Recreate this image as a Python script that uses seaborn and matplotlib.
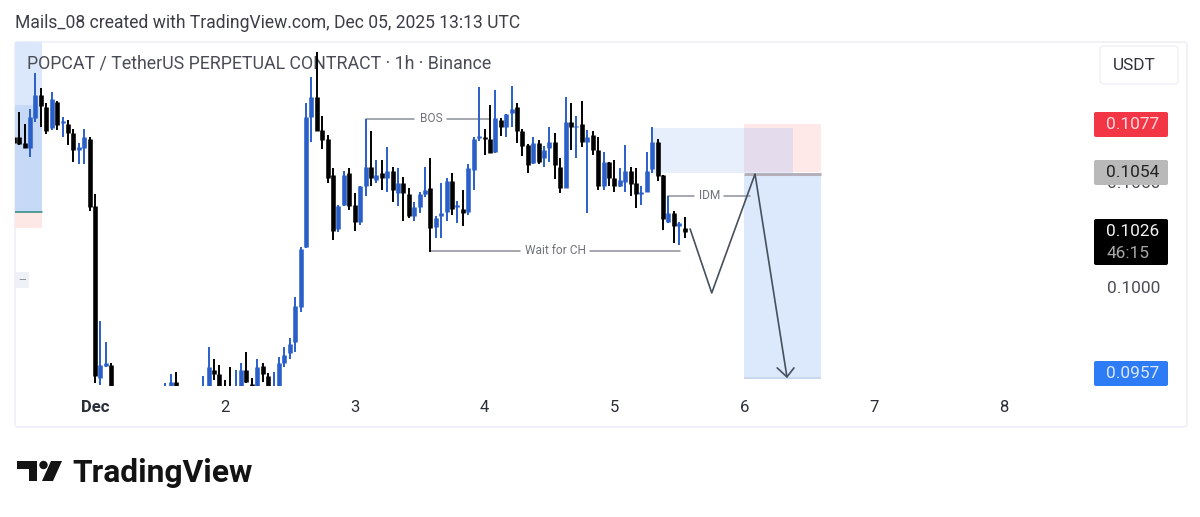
#!/usr/bin/env python3
"""POPCAT / USDT 1h perpetual chart, TradingView snapshot style"""

import matplotlib
matplotlib.use("Agg")
import matplotlib.pyplot as plt
from matplotlib.patches import Rectangle, FancyBboxPatch, Polygon, Circle
import numpy as np
import pandas as pd
import seaborn as sns

# hours since Dec 1 00:00 UTC; candles that sit below the visible range are left out
hours = [-15, -14, -13, -12, -11, -10, -9, -8, -7, -6, -5, -4, -3, -2, -1, 0, 1, 2, 3,
         13, 14, 15] + list(range(20, 110))

opens = [.10713, .10713, .10685, .10661, .10803, .10913, .10856, .10756, .10879, .10780,
         .10775, .10732, .10651, .10661, .10704, .10385, .09568, .09626, .09630,
         .09502, .09502, .09549,
         .09502, .09502, .09606, .09587, .09521, .09521, .09502, .09502, .09606, .09540,
         .09502, .09626, .09578, .09502, .09502, .09640, .09687, .09739, .09906, .10191,
         .10808, .10903, .10746, .10704, .10533, .10276, .10390, .10542, .10390, .10309,
         .10480, .10571, .10509, .10542, .10518, .10552, .10447, .10495, .10442, .10338,
         .10381, .10442, .10471, .10286, .10338, .10357, .10504, .10381, .10371, .10357,
         .10556, .10708, .10713, .10704, .10642, .10794, .10760, .10827, .10856, .10741,
         .10675, .10590, .10685, .10613, .10661, .10689, .10571, .10471, .10784, .10760,
         .10775, .10689, .10723, .10651, .10480, .10594, .10518, .10480, .10499, .10552,
         .10495, .10442, .10452, .10561, .10689, .10533, .10309, .10352, .10290, .10281]

highs = [.10718, .10832, .10775, .10846, .11017, .10946, .10875, .10927, .10884, .10808,
         .10794, .10751, .10685, .10751, .10713, .10442, .09839, .09739, .09640,
         .09545, .09587, .09597,
         .09578, .09716, .09659, .09630, .09559, .09621, .09606, .09640, .09692, .09568,
         .09659, .09640, .09592, .09597, .09668, .09716, .09758, .09953, .10191, .10875,
         .10998, .11117, .10813, .10723, .10566, .10390, .10552, .10566, .10447, .10480,
         .10799, .10741, .10604, .10604, .10666, .10571, .10566, .10523, .10471, .10404,
         .10452, .10571, .10613, .10338, .10495, .10518, .10542, .10409, .10461, .10585,
         .10713, .10950, .10751, .10865, .10936, .10803, .10822, .10955, .10875, .10751,
         .10680, .10713, .10699, .10670, .10760, .10732, .10613, .10903, .10875, .10813,
         .10884, .10746, .10741, .10713, .10642, .10594, .10604, .10566, .10675, .10571,
         .10566, .10480, .10642, .10760, .10704, .10533, .10433, .10362, .10309, .10333]

lows = [.10680, .10675, .10661, .10618, .10784, .10760, .10727, .10746, .10746, .10713,
        .10675, .10594, .10585, .10585, .10362, .09545, .09535, .09621, .09511,
        .09502, .09488, .09488,
        .09502, .09502, .09559, .09502, .09502, .09502, .09502, .09502, .09545, .09502,
        .09502, .09549, .09502, .09502, .09502, .09621, .09659, .09692, .09882, .10186,
        .10689, .10741, .10656, .10495, .10224, .10262, .10385, .10366, .10266, .10295,
        .10433, .10480, .10495, .10461, .10452, .10404, .10385, .10314, .10328, .10314,
        .10352, .10428, .10167, .10233, .10233, .10314, .10343, .10305, .10290, .10343,
        .10461, .10694, .10628, .10637, .10637, .10718, .10713, .10760, .10685, .10623,
        .10542, .10585, .10585, .10571, .10594, .10514, .10447, .10471, .10651, .10613,
        .10666, .10352, .10628, .10461, .10461, .10480, .10452, .10476, .10452, .10433,
        .10376, .10390, .10452, .10542, .10504, .10271, .10305, .10210, .10200, .10233]

closes = [.10685, .10680, .10661, .10808, .10913, .10860, .10741, .10894, .10770, .10789,
          .10732, .10651, .10666, .10713, .10381, .09578, .09630, .09640, .09511,
          .09511, .09549, .09502,
          .09521, .09621, .09587, .09502, .09502, .09502, .09521, .09606, .09549, .09502,
          .09621, .09587, .09502, .09521, .09640, .09678, .09730, .09910, .10181, .10808,
          .10903, .10741, .10699, .10518, .10266, .10385, .10533, .10385, .10309, .10480,
          .10571, .10518, .10533, .10518, .10552, .10461, .10495, .10447, .10338, .10381,
          .10442, .10461, .10281, .10328, .10352, .10504, .10371, .10390, .10352, .10566,
          .10704, .10718, .10704, .10637, .10803, .10760, .10822, .10846, .10741, .10670,
          .10580, .10685, .10594, .10651, .10689, .10580, .10471, .10784, .10760, .10765,
          .10689, .10713, .10651, .10480, .10594, .10518, .10480, .10509, .10552, .10490,
          .10442, .10452, .10552, .10689, .10528, .10324, .10352, .10290, .10305, .10262]

day_ticks = [0, 24, 48, 72, 96, 120, 144, 168]
day_labels = ["Dec", "2", "3", "4", "5", "6", "7", "8"]
axis_prices = [0.1000, 0.1050]

# drawn setup: expected path and arrow head (hour, price)
path_hours = [110, 114, 122, 127.9]
path_prices = [.10276, .09972, .10537, .09573]
head_hours = [126.1, 127.9, 129.2]
head_prices = [.09616, .09573, .09616]

# price tags on the right: label, top and bottom pixel, fill, text colour
tag_labels = ["0.1077", "0.1054", "0.0957"]
tag_boxes = [(112, 137), (160, 185), (361, 386)]
tag_fills = ["#f23645", "#b9b9b9", "#2e7bf6"]
tag_text = ["#ffd9dc", "#222222", "#dbe8ff"]

W, H = 1200, 517
BLUE = "#2a5fc9"
GRAY = "#8b8f98"


def x_h(px):
    return (px - 95) / 5.41


sns.set_theme(style="white")
plt.rcParams["font.family"] = ["Roboto", "DejaVu Sans"]

fig = plt.figure(figsize=(12, 5.17), dpi=100)
fig.patch.set_facecolor("white")

# overlay in pixel coordinates for the frame
over = fig.add_axes([0, 0, 1, 1], zorder=0)
over.set_xlim(0, W)
over.set_ylim(H, 0)
over.axis("off")
over.add_patch(FancyBboxPatch((15, 42), 1172, 385, boxstyle="round,pad=0,rounding_size=3",
                              fc="white", ec="#f0f2f8", lw=1.4))

ax = fig.add_axes([15 / W, 1 - 386 / H, 1072 / W, 344 / H], zorder=1)
ax.patch.set_alpha(0)
ax.set_xlim(x_h(15), x_h(1087))
ax.set_ylim(.09530, .11164)
sns.despine(ax=ax, left=True, bottom=True, top=True, right=True)

# boxes on the left edge
x0, x1 = x_h(15), x_h(42)
ax.add_patch(Rectangle((x0, .10865), x1 - x0, .11164 - .10865, fc="#dbe7fa", ec="none", zorder=1))
ax.add_patch(Rectangle((x0, .10357), x1 - x0, .10865 - .10357, fc="#c6d9f6", ec="none", zorder=1))
ax.add_patch(Rectangle((x0, .10281), x1 - x0, .10357 - .10281, fc="#fde8e6", ec="none", zorder=1))
ax.plot([x0, x1], [.10357, .10357], color="#2a8a7e", lw=1.1, zorder=2)
ax.add_patch(Rectangle((x0, .09996), x_h(29) - x0, .00076, fc="#eef1f8", ec="none", zorder=1))
ax.text(x_h(22.5), .10034, "—", fontsize=7, color="#7d818a", ha="center", va="center", zorder=2)

# trade zones
ax.add_patch(Rectangle((103, .10542), 26, .00214, fc="#e8effc", ec="none", zorder=1))
ax.add_patch(Rectangle((120, .10547), 14.2, .00228, fc="#fee9e8", ec="none", zorder=1.1))
ax.add_patch(Rectangle((120, .10547), 9, .00209, fc="#e4dcec", ec="none", zorder=1.2))
ax.add_patch(Rectangle((120, .09568), 14.2, .00965, fc="#dce8fb", ec="none", zorder=1))
ax.plot([120, 134.2], [.10538, .10538], color="#b4b0bc", lw=2.2, zorder=1.3, solid_capstyle="butt")
ax.plot([120, 134.2], [.09568, .09568], color="#cbd9ee", lw=1.5, zorder=1.3, solid_capstyle="butt")

ax.text((27 - 15) / 1072, 1 - (63 - 42) / 344,
        "POPCAT / TetherUS PERPETUAL CONTRACT · 1h · Binance",
        transform=ax.transAxes, fontsize=12.78, color="#4a4d55",
        ha="left", va="center", zorder=2)

# candles: wick and body each as a two point line per candle
frame = pd.DataFrame({"hour": hours, "o": opens, "h": highs, "l": lows, "c": closes})
frame["side"] = np.where(frame["c"] >= frame["o"], "up", "down")
colors = {"up": BLUE, "down": "#000000"}
wicks = frame.melt(id_vars=["hour", "side"], value_vars=["h", "l"], value_name="price")
bodies = frame.melt(id_vars=["hour", "side"], value_vars=["o", "c"], value_name="price")

sns.lineplot(data=wicks, x="hour", y="price", units="hour", hue="side", palette=colors,
             estimator=None, sort=False, legend=False, lw=1.4, ax=ax, zorder=3,
             solid_capstyle="butt")
sns.lineplot(data=bodies, x="hour", y="price", units="hour", hue="side", palette=colors,
             estimator=None, sort=False, legend=False, lw=3.3, ax=ax, zorder=3.1,
             solid_capstyle="butt")

# labelled lines
ax.plot([x_h(366), x_h(366), x_h(414)], [.10565, .10799, .10799], color=GRAY, lw=1.1, zorder=2.5)
ax.plot([x_h(447), x_h(490)], [.10799, .10799], color=GRAY, lw=1.1, zorder=2.5)
ax.text(x_h(431), .10799, "BOS", fontsize=8.6, color="#6e727a", ha="center", va="center")
ax.plot([x_h(431), x_h(520)], [.10172, .10172], color=GRAY, lw=1.1, zorder=2.5)
ax.plot([x_h(590), x_h(680)], [.10172, .10172], color=GRAY, lw=1.1, zorder=2.5)
ax.text(x_h(555), .10172, "Wait for CH", fontsize=8.6, color="#6e727a", ha="center", va="center")
ax.plot([x_h(668), x_h(668), x_h(694)], [.10309, .10433, .10433], color=GRAY, lw=1.1, zorder=2.5)
ax.plot([x_h(724), x_h(750)], [.10433, .10433], color=GRAY, lw=1.1, zorder=4)
ax.text(x_h(710), .10433, "IDM", fontsize=8.6, color="#6e727a", ha="center", va="center")

sns.lineplot(x=path_hours, y=path_prices, color="#46505e", lw=1.2, estimator=None, sort=False, ax=ax, zorder=5)
sns.lineplot(x=head_hours, y=head_prices, color="#46505e", lw=1.2, estimator=None, sort=False, ax=ax, zorder=5)

ax.set_xlabel("")
ax.set_ylabel("")
ax.set_xticks(day_ticks)
ax.set_xticklabels(day_labels, fontsize=12, color="#2a2e39")
ax.get_xticklabels()[0].set_fontweight("bold")
ax.yaxis.tick_right()
ax.set_yticks(axis_prices)
ax.set_yticklabels([f"{p:.4f}" for p in axis_prices], fontsize=12.4, color="#4a4d55")
ax.tick_params(axis="x", length=0, pad=10)
ax.tick_params(axis="y", length=0, pad=14.5)

# header and chrome, drawn over the axes
top = fig.add_axes([0, 0, 1, 1], zorder=2)
top.set_xlim(0, W)
top.set_ylim(H, 0)
top.axis("off")
top.text(15, 23, "Mails_08 created with TradingView.com, Dec 05, 2025 13:13 UTC",
         fontsize=12.65, color="#3b3e46", ha="left", va="center")

top.add_patch(FancyBboxPatch((1100, 46), 78, 38, boxstyle="round,pad=0,rounding_size=4",
                             fc="white", ec="#f0f2f8", lw=1.2))
top.text(1134, 65, "USDT", fontsize=12.4, color="#2f323a", ha="center", va="center")

for label, (y0, y1), fill, tc in zip(tag_labels, tag_boxes, tag_fills, tag_text):
    top.add_patch(FancyBboxPatch((1094, y0), 74, y1 - y0, boxstyle="round,pad=0,rounding_size=2",
                                 fc=fill, ec="none"))
    top.text(1133, (y0 + y1) / 2, label, fontsize=12.4, color=tc, ha="center", va="center")

top.add_patch(FancyBboxPatch((1094, 219), 74, 46, boxstyle="round,pad=0,rounding_size=2",
                             fc="#000000", ec="none"))
top.text(1133, 232, "0.1026", fontsize=12.4, color="#f2f2f2", ha="center", va="center")
top.text(1128, 253, "46:15", fontsize=12.4, color="#a8a8a8", ha="center", va="center")

# TradingView mark and wordmark
top.add_patch(Polygon([(17, 461), (37, 461), (37, 481), (29, 481), (29, 469), (17, 469)],
                      closed=True, fc="#131313", ec="none"))
top.add_patch(Circle((43.5, 465), 4.2, fc="#131313", ec="none"))
top.add_patch(Polygon([(51, 461), (62, 461), (53, 481), (42, 481)], closed=True, fc="#131313", ec="none"))
top.text(72, 473, "TradingView", fontsize=22.9, fontweight="bold", color="#131313",
         ha="left", va="center")

fig.savefig("out.png", dpi=100, facecolor="white")
